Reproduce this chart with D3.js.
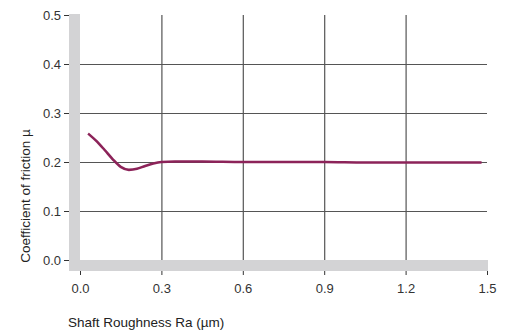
<!DOCTYPE html>
<html><head><meta charset="utf-8">
<script src="https://cdn.jsdelivr.net/npm/d3@7"></script>
<style>body{margin:0;background:#fff}svg{display:block}text{font-family:"Liberation Sans",Arial,sans-serif}</style>
</head><body><svg id="c" width="513" height="331"></svg>
<script>
const roughness = [0.03,0.06,0.09,0.12,0.15,0.18,0.21,0.24,0.27,0.30,0.35,0.45,0.6,0.75,0.9,1.05,1.2,1.35,1.48];
const friction  = [0.258,0.243,0.225,0.206,0.190,0.184,0.186,0.192,0.197,0.200,0.201,0.201,0.200,0.200,0.200,0.199,0.199,0.199,0.199];
const xTicks = [0,0.3,0.6,0.9,1.2,1.5];
const yTicks = [0,0.1,0.2,0.3,0.4,0.5];
const xTitle = "Shaft Roughness Ra (µm)";
const yTitle = "Coefficient of friction µ";

const svg = d3.select("#c");
const x = d3.scaleLinear().domain([0,1.5]).range([80,487]);
const y = d3.scaleLinear().domain([0,0.5]).range([260,15]);

// grey frame bars
svg.append("rect").attr("x",69).attr("y",y(0.5)-1).attr("width",11).attr("height",y(0)-y(0.5)+11).attr("fill","#d3d3d5");
svg.append("rect").attr("x",69).attr("y",y(0)).attr("width",x(1.5)-69+1).attr("height",11).attr("fill","#d3d3d5");

// grid
const g = svg.append("g");
g.selectAll(".hg").data(yTicks.filter(d=>d>0&&d<0.5)).join("line")
  .attr("x1",x(0)).attr("x2",x(1.5)).attr("y1",d=>y(d)+0.5).attr("y2",d=>y(d)+0.5)
  .attr("stroke","#555").attr("stroke-width",1.2);
g.selectAll(".vg").data(xTicks.filter(d=>d>0&&d<1.5)).join("line")
  .attr("x1",d=>x(d)+0.5).attr("x2",d=>x(d)+0.5).attr("y1",y(0.5)).attr("y2",y(0))
  .attr("stroke","#555").attr("stroke-width",1.2);

// y axis
const ya = svg.append("g").attr("transform","translate(69,0)")
  .call(d3.axisLeft(y).tickValues(yTicks).tickFormat(d3.format(".1f")).tickSize(5).tickPadding(3));
ya.select(".domain").remove();
ya.selectAll("line").attr("stroke","#333");
ya.selectAll("text").attr("font-size",13).attr("fill","#333").attr("font-family","Liberation Sans,Arial,sans-serif");

// x axis
const xa = svg.append("g").attr("transform","translate(0,271)")
  .call(d3.axisBottom(x).tickValues(xTicks).tickFormat(d3.format(".1f")).tickSize(4).tickPadding(9));
xa.select(".domain").remove();
xa.selectAll("line").attr("stroke","#333");
xa.selectAll("text").attr("font-size",13).attr("fill","#333").attr("font-family","Liberation Sans,Arial,sans-serif");

// line
svg.append("path").datum(roughness.map((r,i)=>[r,friction[i]]))
  .attr("d",d3.line().x(d=>x(d[0])).y(d=>y(d[1])).curve(d3.curveMonotoneX))
  .attr("fill","none").attr("stroke","#8c2359").attr("stroke-width",2.6);

// titles
svg.append("text").attr("x",68).attr("y",327).attr("font-size",13.5).attr("fill","#222").text(xTitle);
svg.append("text").attr("transform","translate(30,196) rotate(-90)").attr("text-anchor","middle")
  .attr("font-size",13.5).attr("fill","#222").text(yTitle);
</script></body></html>
